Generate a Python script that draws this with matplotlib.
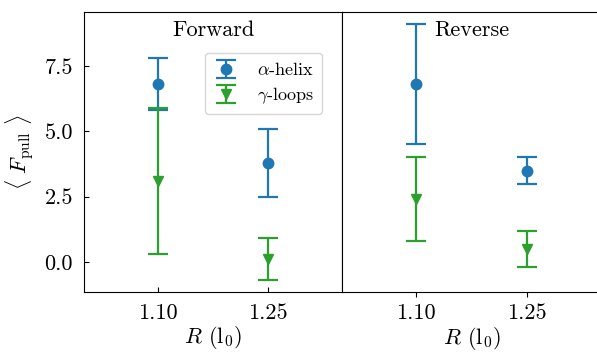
import numpy as np
import matplotlib
matplotlib.use("Agg")
import matplotlib.pyplot as plt

plt.rcParams['font.family'] = 'serif'
plt.rcParams['font.serif'] = ['cmr10']
plt.rcParams['mathtext.fontset'] = 'cm'
plt.rcParams['axes.formatter.use_mathtext'] = True
plt.rcParams['axes.unicode_minus'] = False
plt.rcParams['font.size'] = 16

R = [1.10, 1.25]
tick_labels = ['1.10', '1.25']

# forward pulling
fwd_helix = [6.8, 3.8]
fwd_helix_err = [1.0, 1.3]
fwd_loops = [3.1, 0.1]
fwd_loops_err = [2.8, 0.8]

# reverse pulling
rev_helix = [6.8, 3.5]
rev_helix_err = [2.3, 0.5]
rev_loops = [2.4, 0.5]
rev_loops_err = [1.6, 0.7]

fig = plt.figure(figsize=(5.97, 3.52), dpi=100)
W, H = 597.0, 352.0
ax1 = fig.add_axes([84 / W, 1 - 292 / H, 258 / W, 280 / H])
ax2 = fig.add_axes([342 / W, 1 - 292 / H, 259 / W, 280 / H], sharey=ax1)

kw = dict(linestyle='none', capsize=7, elinewidth=1.6, capthick=1.6, markersize=7.5)

ax1.errorbar(R, fwd_helix, yerr=fwd_helix_err, fmt='o', color='#1f77b4', label=r'$\alpha$-helix', **kw)
ax1.errorbar(R, fwd_loops, yerr=fwd_loops_err, fmt='v', color='#2ca02c', label=r'$\gamma$-loops', **kw)
ax2.errorbar(R, rev_helix, yerr=rev_helix_err, fmt='o', color='#1f77b4', **kw)
ax2.errorbar(R, rev_loops, yerr=rev_loops_err, fmt='v', color='#2ca02c', **kw)

for ax in (ax1, ax2):
    ax.set_xlim(1.0, 1.35)
    ax.set_xticks(R)
    ax.set_xticklabels(tick_labels)
    ax.set_xlabel(r'$R$ (l$_0$)', labelpad=1)

ax1.set_ylim(-1.15, 9.57)
ax1.set_yticks([0.0, 2.5, 5.0, 7.5])
ax1.set_yticklabels(['0.0', '2.5', '5.0', '7.5'])
ax1.set_ylabel(r'$\langle\ F_{\rm pull}\ \rangle$', labelpad=6)
ax1.tick_params(direction='in')
ax1.tick_params(axis='x', pad=8)
ax1.tick_params(axis='y', pad=8)
ax2.tick_params(axis='x', pad=5)
ax2.tick_params(axis='y', left=False, labelleft=False)

ax1.text(0.5, 0.97, 'Forward', transform=ax1.transAxes, ha='center', va='top')
ax2.text(0.5, 0.97, 'Reverse', transform=ax2.transAxes, ha='center', va='top')

ax1.legend(loc='upper right', bbox_to_anchor=(0.922, 0.854), borderaxespad=0,
           fontsize=13, handlelength=1.4, handletextpad=1.0, borderpad=0.45,
           labelspacing=0.4)

fig.savefig('out.png', dpi=100)
